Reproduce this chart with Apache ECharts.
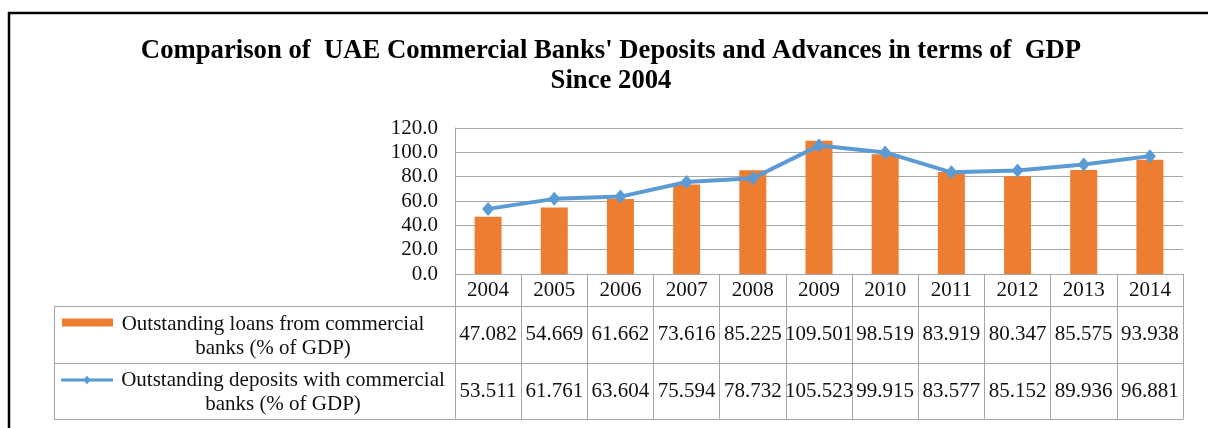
<!DOCTYPE html>
<html>
<head>
<meta charset="utf-8">
<script src="https://cdn.jsdelivr.net/npm/echarts@6/dist/echarts.min.js"></script>
<style>
  html, body { margin: 0; padding: 0; background: #fff; }
  #chart { width: 1208px; height: 428px; }
</style>
</head>
<body>
<div id="chart"></div>
<script>
// Categories and series values
const years = ['2004', '2005', '2006', '2007', '2008', '2009', '2010', '2011', '2012', '2013', '2014'];
const loans = [47.082, 54.669, 61.662, 73.616, 85.225, 109.501, 98.519, 83.919, 80.347, 85.575, 93.938];
const deposits = [53.511, 61.761, 63.604, 75.594, 78.732, 105.523, 99.915, 83.577, 85.152, 89.936, 96.881];
const loansName = ['Outstanding loans from commercial', 'banks (% of GDP)'];
const depositsName = ['Outstanding deposits with commercial', 'banks (% of GDP)'];
const titleLines = ["Comparison of  UAE Commercial Banks' Deposits and Advances in terms of  GDP", 'Since 2004'];

// Layout
const W = 1208, H = 428;
const plotLeft = 455, plotRight = 1183, plotTop = 128, plotBottom = 274;
const yearRowH = 32, loansRowH = 57, depRowH = 56;
const tableLeft = 54;
const row1Top = plotBottom + yearRowH;          // top of loans row
const row2Top = row1Top + loansRowH;            // top of deposits row
const tableBottom = row2Top + depRowH;
const row1Mid = (row1Top + row2Top) / 2;
const row2Mid = (row2Top + tableBottom) / 2;

const GRID = '#a6a6a6';
const SERIF = '"Liberation Serif", "Times New Roman", serif';
const ORANGE = '#ed7d31';
const BLUE = '#5b9bd5';
const txt = { fontFamily: SERIF, fontSize: 21, color: '#111' };

const chart = echarts.init(document.getElementById('chart'), null, { renderer: 'canvas' });

// Extra bottom axes form the value rows of the data table
function tableAxis(offset, tickLen, values, margin) {
  return {
    type: 'category', data: years, position: 'bottom', offset: offset,
    axisLine: { show: true, lineStyle: { color: GRID, width: 1 } },
    axisTick: values ? { show: true, length: tickLen, interval: 0, lineStyle: { color: GRID } } : { show: false },
    axisLabel: values ? {
      show: true, interval: 0, margin: margin, verticalAlign: 'middle',
      formatter: (v, i) => values[i].toFixed(3), ...txt
    } : { show: false },
    splitLine: { show: false }
  };
}

const option = {
  animation: false,
  backgroundColor: '#fff',
  grid: { left: plotLeft, right: W - plotRight, top: plotTop, bottom: H - plotBottom, containLabel: false },
  xAxis: [
    {
      type: 'category', data: years, position: 'bottom',
      axisLine: { show: true, lineStyle: { color: GRID, width: 1 } },
      axisTick: { show: true, length: yearRowH, interval: 0, lineStyle: { color: GRID } },
      axisLabel: { interval: 0, margin: yearRowH / 2, verticalAlign: 'middle', ...txt },
      splitLine: { show: false }
    },
    tableAxis(yearRowH, loansRowH, loans, loansRowH / 2),
    tableAxis(yearRowH + loansRowH, depRowH, deposits, depRowH / 2),
    tableAxis(yearRowH + loansRowH + depRowH, 0, null, 0)
  ],
  yAxis: {
    type: 'value', min: 0, max: 120, interval: 20,
    axisLine: { show: true, lineStyle: { color: GRID, width: 1 } },
    axisTick: { show: false },
    axisLabel: { margin: 17, formatter: v => v.toFixed(1), ...txt },
    splitLine: { show: true, lineStyle: { color: GRID, width: 1 } }
  },
  series: [
    {
      name: loansName.join(' '), type: 'bar', data: loans, xAxisIndex: 0,
      barWidth: 27, itemStyle: { color: ORANGE }, z: 2
    },
    {
      name: depositsName.join(' '), type: 'line', data: deposits, xAxisIndex: 0,
      symbol: 'diamond', symbolSize: [12, 14], showAllSymbol: true,
      lineStyle: { color: BLUE, width: 4 }, itemStyle: { color: BLUE }, z: 3
    }
  ],
  graphic: [
    // outer frame
    { type: 'rect', shape: { x: 9, y: 13, width: W + 20, height: H + 20 },
      style: { fill: null, stroke: '#000', lineWidth: 2.5 }, silent: true },
    // title
    { type: 'text', x: 611, y: 51, style: { text: titleLines[0], font: 'bold 26.7px ' + SERIF,
      fill: '#000', align: 'center', verticalAlign: 'middle' } },
    { type: 'text', x: 611, y: 81, style: { text: titleLines[1], font: 'bold 26.7px ' + SERIF,
      fill: '#000', align: 'center', verticalAlign: 'middle' } },
    // table: legend column borders
    ...[row1Top, row2Top, tableBottom].map(y => ({
      type: 'line', shape: { x1: tableLeft, y1: y + 0.5, x2: plotLeft, y2: y + 0.5 },
      style: { stroke: GRID, lineWidth: 1 }, silent: true
    })),
    { type: 'line', shape: { x1: tableLeft + 0.5, y1: row1Top, x2: tableLeft + 0.5, y2: tableBottom },
      style: { stroke: GRID, lineWidth: 1 }, silent: true },
    // legend keys
    { type: 'rect', shape: { x: 62, y: row1Mid - 16, width: 51, height: 8 },
      style: { fill: ORANGE } },
    { type: 'line', shape: { x1: 61, y1: row2Mid - 11, x2: 113, y2: row2Mid - 11 },
      style: { stroke: BLUE, lineWidth: 3 } },
    { type: 'polygon', shape: { points: [[87, row2Mid - 15.5], [90.5, row2Mid - 11], [87, row2Mid - 6.5], [83.5, row2Mid - 11]] },
      style: { fill: BLUE } },
    // legend labels
    { type: 'text', x: 273, y: row1Mid + 2, style: { text: loansName.join('\n'),
      font: '21px ' + SERIF, fill: '#111', align: 'center', verticalAlign: 'middle', lineHeight: 24 } },
    { type: 'text', x: 283, y: row2Mid + 1, style: { text: depositsName.join('\n'),
      font: '21px ' + SERIF, fill: '#111', align: 'center', verticalAlign: 'middle', lineHeight: 24 } }
  ]
};

chart.setOption(option);
</script>
</body>
</html>
